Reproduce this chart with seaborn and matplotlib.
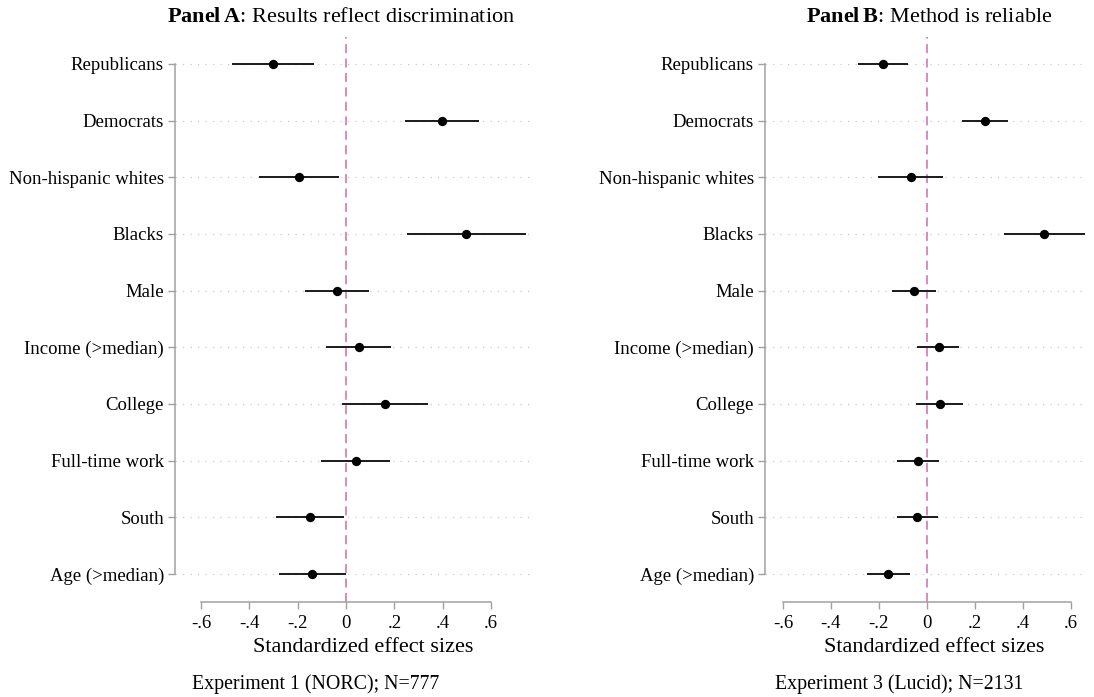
import matplotlib
matplotlib.use("Agg")
import matplotlib.pyplot as plt
import seaborn as sns
import pandas as pd

# categories (top to bottom)
groups = ["Republicans", "Democrats", "Non-hispanic whites", "Blacks", "Male",
          "Income (>median)", "College", "Full-time work", "South", "Age (>median)"]

# Panel A: Experiment 1 (NORC)
est_a = [-0.300, 0.397, -0.193, 0.496, -0.036, 0.052, 0.163, 0.040, -0.147, -0.139]
lo_a = [-0.472, 0.244, -0.358, 0.252, -0.168, -0.083, -0.015, -0.103, -0.289, -0.277]
hi_a = [-0.131, 0.548, -0.029, 0.742, 0.096, 0.186, 0.338, 0.183, -0.010, -0.001]

# Panel B: Experiment 3 (Lucid)
est_b = [-0.181, 0.243, -0.067, 0.489, -0.053, 0.050, 0.054, -0.036, -0.039, -0.160]
lo_b = [-0.287, 0.146, -0.202, 0.324, -0.143, -0.039, -0.046, -0.125, -0.124, -0.250]
hi_b = [-0.077, 0.341, 0.069, 0.660, 0.039, 0.136, 0.153, 0.053, 0.047, -0.070]

xticks = [-0.6, -0.4, -0.2, 0, 0.2, 0.4, 0.6]
xticklabels = ["-.6", "-.4", "-.2", "0", ".2", ".4", ".6"]

sns.set_theme(style="ticks")
plt.rcParams["font.family"] = ["Liberation Serif", "DejaVu Serif"]
plt.rcParams["mathtext.fontset"] = "custom"
plt.rcParams["mathtext.rm"] = "Liberation Serif"
plt.rcParams["mathtext.bf"] = "Liberation Serif:bold"
plt.rcParams["text.color"] = "black"

W, H = 1094, 697
fig = plt.figure(figsize=(W / 100, H / 100), dpi=100)

panels = [
    dict(est=est_a, lo=lo_a, hi=hi_a, px=(175, 535), xlim=(-0.707, 0.781),
         title=r"$\bf{Panel\!\ A}$: Results reflect discrimination", tx=341,
         lx=363, note="Experiment 1 (NORC); N=777", nx=192),
    dict(est=est_b, lo=lo_b, hi=hi_b, px=(765, 1088), xlim=(-0.675, 0.673),
         title=r"$\bf{Panel\!\ B}$: Method is reliable", tx=929,
         lx=934, note="Experiment 3 (Lucid); N=2131", nx=775),
]

top_px, bot_px = 37, 602
grey = "#a0a0a0"

for p in panels:
    ax = fig.add_axes([p["px"][0] / W, 1 - bot_px / H,
                       (p["px"][1] - p["px"][0]) / W, (bot_px - top_px) / H])
    df = pd.DataFrame({"group": groups, "est": p["est"], "lo": p["lo"], "hi": p["hi"]})
    df["pos"] = range(len(df))

    for y in df["pos"]:
        ax.axhline(y, color="#c8c8c8", lw=0.9, ls=(0, (1, 5)), zorder=0)
    ax.axvline(0, color="#d684b8", lw=1.3, ls=(0, (5, 3)), zorder=1)
    ax.hlines(df["pos"], df["lo"], df["hi"], color="#1a1a1a", lw=1.4, zorder=2)
    sns.scatterplot(data=df, x="est", y="pos", color="black", s=45,
                    edgecolor="black", linewidth=0, zorder=3, ax=ax)

    ax.set_xlim(*p["xlim"])
    ax.set_ylim(9.494, -0.476)
    ax.set_yticks(df["pos"])
    ax.set_yticklabels(groups)
    ax.set_xticks(xticks)
    ax.set_xticklabels(xticklabels)
    ax.set_xlabel("")
    ax.set_ylabel("")
    ax.tick_params(axis="both", direction="out", length=5, width=1, color=grey,
                   labelsize=13.5, labelcolor="black", bottom=True, left=True)
    ax.tick_params(axis="y", pad=3)
    ax.tick_params(axis="x", pad=4)
    sns.despine(ax=ax)
    for s in ["left", "bottom"]:
        ax.spines[s].set_color(grey)
        ax.spines[s].set_linewidth(1.1)
    ax.spines["left"].set_bounds(0, 9)
    ax.spines["bottom"].set_bounds(-0.6, 0.6)

    fig.text(p["tx"] / W, 1 - 18 / H, p["title"], ha="center", va="center", fontsize=16)
    fig.text(p["lx"] / W, 1 - 648 / H, "Standardized effect sizes", ha="center",
             va="center", fontsize=16)
    fig.text(p["nx"] / W, 1 - 684 / H, p["note"], ha="left", va="center", fontsize=14.3)

fig.savefig("out.png", dpi=100, facecolor="white")
